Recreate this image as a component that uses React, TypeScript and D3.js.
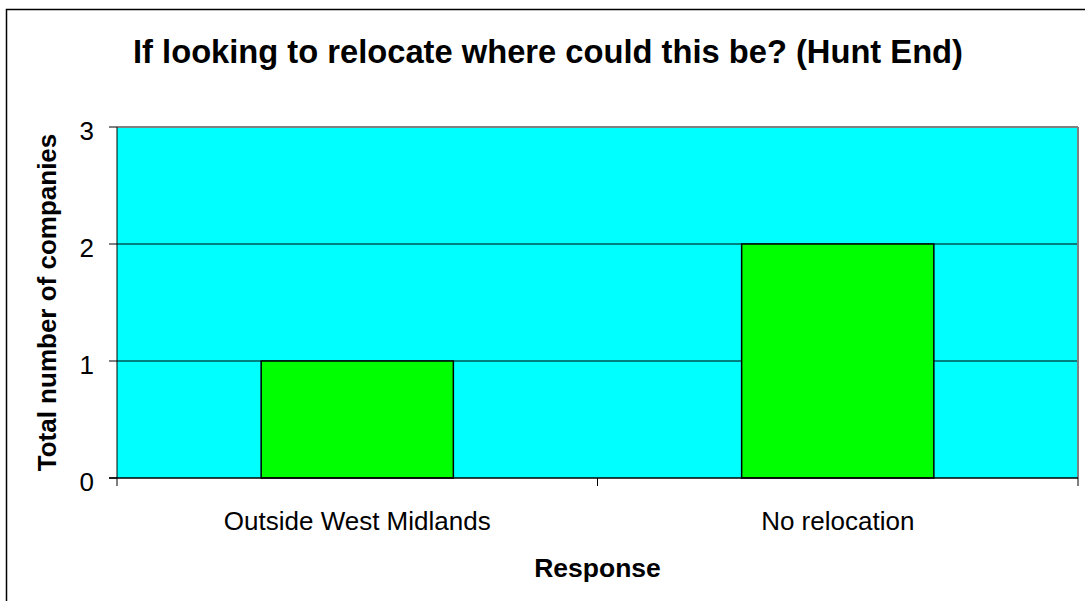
import React from "react";
import * as d3 from "d3";

const categories = ["Outside West Midlands", "No relocation"];
const values = [1, 2];
const yTicks = [0, 1, 2, 3];
const title = "If looking to relocate where could this be? (Hunt End)";
const xTitle = "Response";
const yTitle = "Total number of companies";

export default function App() {
  const W = 1085, H = 601;
  const left = 117, right = 1078, top = 127, bottom = 478;
  const x = d3.scaleBand<string>().domain(categories).range([left, right]).paddingInner(0.6).paddingOuter(0.3);
  const y = d3.scaleLinear().domain([0, 3]).range([bottom, top]);
  const band = d3.scaleBand<string>().domain(categories).range([left, right]);
  const font = "'Liberation Sans', Arial, sans-serif";
  return (
    <svg width={W} height={H} style={{ position: "absolute", left: 0, top: 0, background: "#fff" }} fontFamily={font}>
      <rect x={6.5} y={9.5} width={1200} height={700} fill="#fff" stroke="#000" strokeWidth={1.5} />
      <text x={548} y={63} textAnchor="middle" fontSize={32.7} fontWeight="bold">{title}</text>
      <rect x={left} y={top} width={right - left} height={bottom - top} fill="#00ffff" />
      {yTicks.filter(t => t > 0).map(t => (
        <line key={t} x1={left} x2={right} y1={y(t)} y2={y(t)} stroke={t === 3 ? "#808080" : "#000"} strokeWidth={t === 3 ? 2 : 1} />
      ))}
      <line x1={right} x2={right} y1={top} y2={bottom} stroke="#808080" strokeWidth={2} />
      {categories.map((c, i) => (
        <rect key={c} x={x(c)!} y={y(values[i])} width={x.bandwidth()} height={bottom - y(values[i])} fill="#00ff00" stroke="#000" strokeWidth={1.5} />
      ))}
      <line x1={left} x2={left} y1={top} y2={bottom} stroke="#000" strokeWidth={1} />
      <line x1={left - 8} x2={right} y1={bottom} y2={bottom} stroke="#000" strokeWidth={1.5} />
      {yTicks.map(t => (
        <g key={t}>
          <line x1={left - 8} x2={left} y1={y(t)} y2={y(t)} stroke="#000" />
          <text x={94} y={y(t) + 13} textAnchor="end" fontSize={26}>{t}</text>
        </g>
      ))}
      {[left, left + band.bandwidth(), right].map((v, i) => (
        <line key={i} x1={v} x2={v} y1={bottom} y2={bottom + 8} stroke="#000" />
      ))}
      {categories.map(c => (
        <text key={c} x={band(c)! + band.bandwidth() / 2} y={530} textAnchor="middle" fontSize={26}>{c}</text>
      ))}
      <text x={(left + right) / 2} y={577} textAnchor="middle" fontSize={26.5} fontWeight="bold">{xTitle}</text>
      <text transform={`translate(56, ${(top + bottom) / 2}) rotate(-90)`} textAnchor="middle" fontSize={26} fontWeight="bold">{yTitle}</text>
    </svg>
  );
}
